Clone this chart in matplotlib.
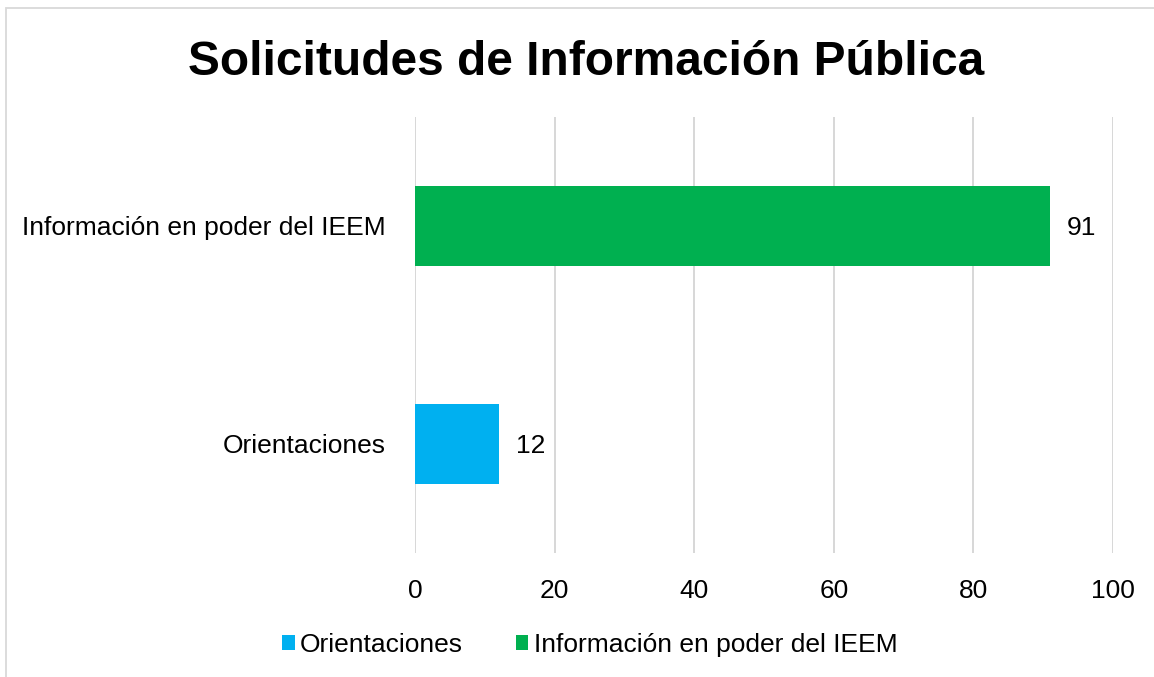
import matplotlib.pyplot as plt
from matplotlib.patches import Patch, Rectangle

plt.rcParams['font.family'] = ['Liberation Sans', 'DejaVu Sans']

# datos
categorias = ['Orientaciones', 'Información en poder del IEEM']
valores = [12, 91]
colores = ['#00B0F0', '#00B050']
ticks_x = [0, 20, 40, 60, 80, 100]
titulo = 'Solicitudes de Información Pública'

fig = plt.figure(figsize=(11.54, 6.77), dpi=100)
ax = fig.add_axes([0.3596, 0.1832, 0.6049, 0.644])

pos = list(range(len(categorias)))
ax.barh(pos, valores, height=0.365, color=colores, zorder=3)

for p, v in zip(pos, valores):
    ax.annotate(str(v), (v, p), xytext=(17, 0), textcoords='offset pixels',
                ha='left', va='center_baseline', fontsize=19, color='#000000')

ax.set_xlim(0, 100)
ax.set_ylim(-0.5, 1.5)
ax.set_xticks(ticks_x)
ax.set_yticks(pos)
ax.set_yticklabels(categorias, va='center_baseline')
ax.tick_params(axis='both', length=0, labelsize=19, colors='#000000')
ax.tick_params(axis='y', pad=21)
ax.tick_params(axis='x', pad=19)
ax.grid(axis='x', color='#D4D4D4', linewidth=1.3, zorder=0)
for s in ax.spines.values():
    s.set_visible(False)

fig.text(0.508, 1 - 75 / 677, titulo, ha='center', va='baseline',
         fontsize=34.5, fontweight='bold')

handles = [Patch(facecolor=c, label=n) for c, n in zip(colores, categorias)]
fig.legend(handles=handles, loc='center', bbox_to_anchor=(0.511, 0.047),
           ncol=2, frameon=False, fontsize=19, handlelength=0.48,
           handleheight=0.48, handletextpad=0.2, columnspacing=2.0)

# borde del area del grafico
fig.patches.append(Rectangle((6 / 1154, -0.1), 1.2, 1 - 8 / 677 + 0.1,
                             transform=fig.transFigure, fill=False,
                             edgecolor='#D9D9D9', linewidth=1.3))

fig.savefig('out.png', dpi=100)
